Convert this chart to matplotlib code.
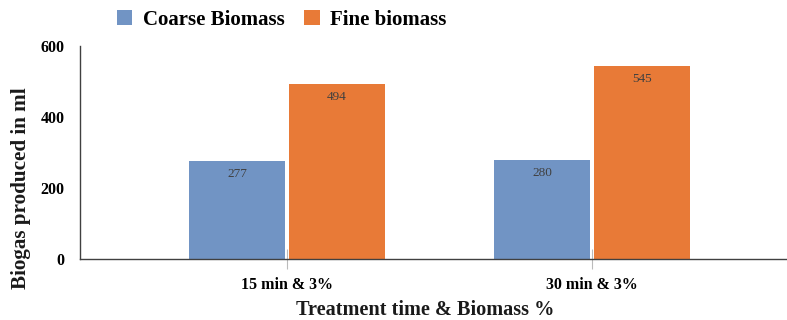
import matplotlib
matplotlib.use("Agg")
import matplotlib.pyplot as plt
import numpy as np
from matplotlib.patches import Patch

categories = ["15 min & 3%", "30 min & 3%"]
series_names = ["Coarse Biomass", "Fine biomass"]
coarse = [277, 280]
fine = [494, 545]
colors = ["#7194C4", "#E87A37"]

plt.rcParams['font.family'] = ['Liberation Serif', 'DejaVu Serif']

fig = plt.figure(figsize=(7.87, 3.2), dpi=100)
ax = fig.add_axes([80/787, 61/320, 1 - 80/787, 213/320])

x = np.arange(len(categories))
w = 0.315
off = 0.164
b1 = ax.bar(x - off, coarse, w, color=colors[0])
b2 = ax.bar(x + off, fine, w, color=colors[1])

for bars, vals in ((b1, coarse), (b2, fine)):
    for r, v in zip(bars, vals):
        ax.annotate(str(v), (r.get_x() + r.get_width()/2, v), xytext=(0, -5.5),
                    textcoords='offset points', ha='center', va='top',
                    fontsize=9.5, color='#404040')

ax.set_xlim(-0.679, 1.639)
ax.set_ylim(0, 600)
ax.set_yticks([0, 200, 400, 600])
ax.set_xticks(x)
ax.set_xticklabels(categories, fontsize=11.5, fontweight='bold')
ax.tick_params(axis='y', length=0, pad=11, labelsize=11.5)
for lab in ax.get_yticklabels():
    lab.set_fontweight('bold')
ax.tick_params(axis='x', length=14, direction='inout', color='#BBBBBB', width=0.8, pad=6)

for s in ['top', 'right']:
    ax.spines[s].set_visible(False)
ax.spines['left'].set_color('#404040')
ax.spines['bottom'].set_color('#404040')
ax.spines['left'].set_linewidth(1.0)
ax.spines['bottom'].set_linewidth(1.0)

fig.text(21/787, 1 - 188/320, "Biogas produced in ml", rotation=90, ha='center', va='center',
         fontsize=15.2, fontweight='bold', color='#1a1a1a')
fig.text(425/787, 1 - 310/320, "Treatment time & Biomass %", ha='center', va='center',
         fontsize=14.6, fontweight='bold', color='#1a1a1a')

handles = [Patch(facecolor=c) for c in colors]
fig.legend(handles, series_names, loc='center left', bbox_to_anchor=(98/787, 1 - 20/320),
           ncol=2, frameon=False, prop={'weight': 'bold', 'size': 15},
           handlelength=0.75, handleheight=0.75, columnspacing=0.95, handletextpad=0.5)

fig.savefig("out.png", dpi=100)
